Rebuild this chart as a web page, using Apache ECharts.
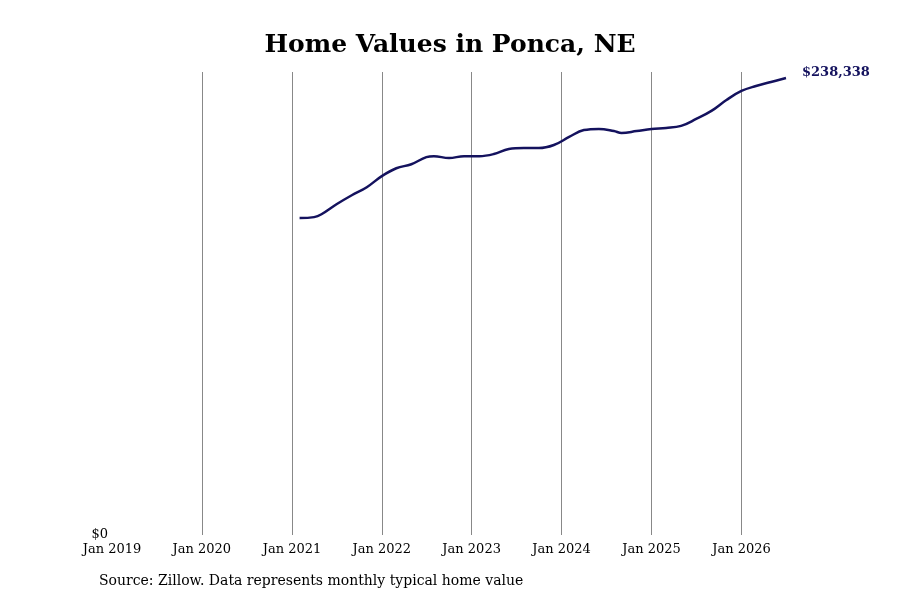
<!DOCTYPE html>
<html><head><meta charset="utf-8">
<script src="https://cdn.jsdelivr.net/npm/echarts@6/dist/echarts.min.js"></script>
<style>body{margin:0}#c{width:900px;height:600px}</style></head>
<body><div id="c"></div>
<script>
const months = ['2021-02','2021-04','2021-05','2021-07','2021-09','2021-11','2022-01','2022-03','2022-05','2022-07','2022-08','2022-10','2022-12','2023-02','2023-04','2023-06','2023-08','2023-10','2023-12','2024-02','2024-04','2024-06','2024-08','2024-09','2024-11','2025-01','2025-03','2025-05','2025-07','2025-09','2025-11','2026-01','2026-03','2026-05','2026-07'];
const values = [165300,165800,167300,172500,177200,181400,187200,191300,193400,197100,197600,196600,197600,197600,198700,201300,201800,201800,203400,207600,211200,211800,210700,209700,210700,211800,212300,213400,217000,221200,226900,231600,234200,236300,238338];
const gridYears = ['2020-01-01','2021-01-01','2022-01-01','2023-01-01','2024-01-01','2025-01-01','2026-01-01'];
const font = 'DejaVu Serif';
const data = months.map((m,i)=>[m+'-01',values[i]]);
const chart = echarts.init(document.getElementById('c'));
chart.setOption({
  animation:false,
  title:{text:'Home Values in Ponca, NE',left:'center',top:28,textStyle:{fontFamily:font,fontSize:25,fontWeight:'bold',color:'#000'}},
  graphic:[{type:'text',left:99,top:574,style:{text:'Source: Zillow. Data represents monthly typical home value',font:'14px "DejaVu Serif"',fill:'#000'}}],
  grid:{left:112,right:114,top:72,bottom:65},
  xAxis:{type:'time',min:'2019-01-01',max:'2026-07-01',
    minInterval:365.25*86400000,maxInterval:365.25*86400000,
    axisLine:{show:false},axisTick:{show:false},
    axisLabel:{fontFamily:font,fontSize:13,color:'#000',margin:8,showMinLabel:true,
      formatter:v=>{const d=new Date(v);return d.getUTCMonth()===0?'Jan '+d.getUTCFullYear():'';}},
    splitLine:{show:false}},
  yAxis:{type:'value',min:0,max:241500,interval:241500,
    axisLine:{show:false},axisTick:{show:false},splitLine:{show:false},
    axisLabel:{fontFamily:font,fontSize:13,color:'#000',margin:4,formatter:v=>v===0?'$0':''}},
  series:[{type:'line',data:data,smooth:0.4,showSymbol:false,z:3,
    lineStyle:{color:'#14125e',width:2.5},
    endLabel:{show:true,formatter:'$238,338',fontFamily:font,fontWeight:'bold',fontSize:13,color:'#14125e',offset:[8,-5]},
    markLine:{silent:true,symbol:'none',label:{show:false},z:1,
      lineStyle:{color:'#888',width:1,type:'solid'},
      data:gridYears.map(d=>({xAxis:d}))}}]
});
</script></body></html>
